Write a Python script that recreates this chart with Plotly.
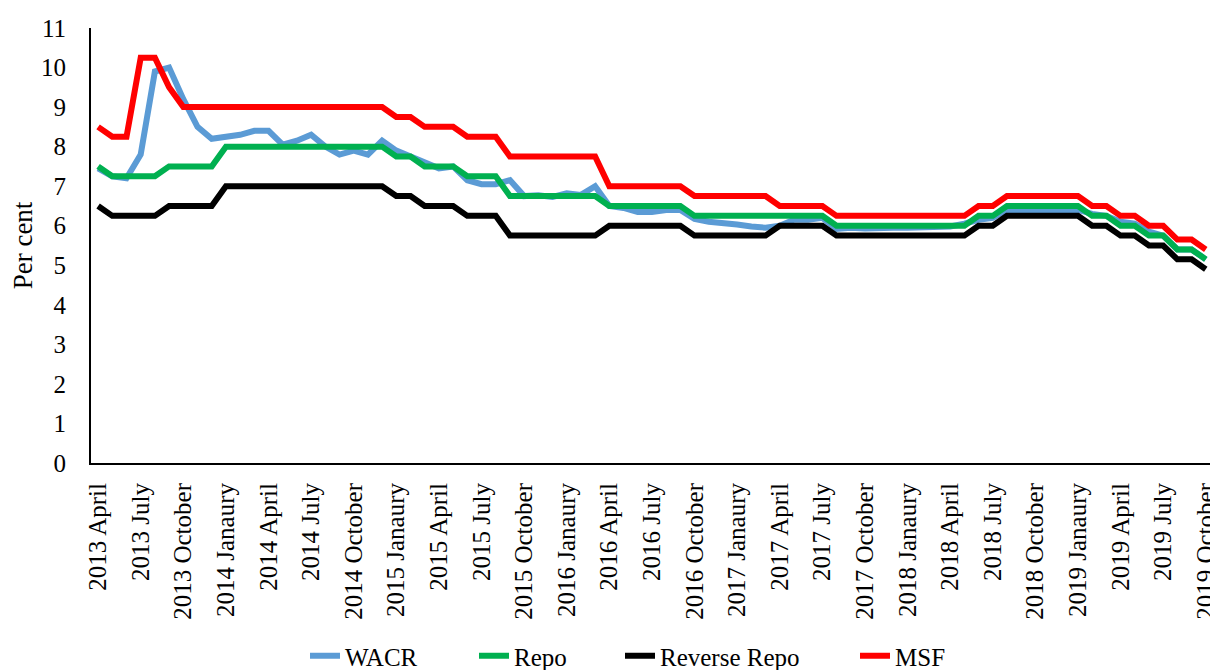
import plotly.graph_objects as go

month_names = ["Janaury", "February", "March", "April", "May", "June", "July",
               "August", "September", "October", "November", "December"]

# Monthly categories: 2013 April .. 2019 October
categories = []
for yr in range(2013, 2020):
    for mi, mn in enumerate(month_names):
        if yr == 2013 and mi < 3:
            continue
        if yr == 2019 and mi > 9:
            continue
        categories.append(f"{yr} {mn}")

wacr = [7.45, 7.25, 7.2, 7.8, 9.9, 10.0, 9.2, 8.5, 8.2, 8.25,
        8.3, 8.4, 8.4, 8.05, 8.15, 8.3, 8.0, 7.8, 7.9, 7.8,
        8.15, 7.9, 7.75, 7.6, 7.45, 7.5, 7.15, 7.05, 7.05, 7.15,
        6.75, 6.77, 6.73, 6.82, 6.78, 7.0, 6.5, 6.45, 6.35, 6.35,
        6.4, 6.4, 6.17, 6.1, 6.08, 6.03, 5.98, 5.95, 6.0, 6.15,
        6.15, 6.2, 5.92, 5.95, 5.93, 5.95, 5.95, 5.95, 5.95, 5.95,
        5.98, 6.05, 6.15, 6.2, 6.4, 6.4, 6.4, 6.42, 6.43, 6.4,
        6.3, 6.25, 6.1, 6.05, 5.85, 5.75, 5.4, 5.4, 5.15]

repo = [7.5, 7.25, 7.25, 7.25, 7.25, 7.5, 7.5, 7.5, 7.5, 8.0,
        8.0, 8.0, 8.0, 8.0, 8.0, 8.0, 8.0, 8.0, 8.0, 8.0,
        8.0, 7.75, 7.75, 7.5, 7.5, 7.5, 7.25, 7.25, 7.25, 6.75,
        6.75, 6.75, 6.75, 6.75, 6.75, 6.75, 6.5, 6.5, 6.5, 6.5,
        6.5, 6.5, 6.25, 6.25, 6.25, 6.25, 6.25, 6.25, 6.25, 6.25,
        6.25, 6.25, 6.0, 6.0, 6.0, 6.0, 6.0, 6.0, 6.0, 6.0,
        6.0, 6.0, 6.25, 6.25, 6.5, 6.5, 6.5, 6.5, 6.5, 6.5,
        6.25, 6.25, 6.0, 6.0, 5.75, 5.75, 5.4, 5.4, 5.15]

reverse_repo = [6.5, 6.25, 6.25, 6.25, 6.25, 6.5, 6.5, 6.5, 6.5, 7.0,
                7.0, 7.0, 7.0, 7.0, 7.0, 7.0, 7.0, 7.0, 7.0, 7.0,
                7.0, 6.75, 6.75, 6.5, 6.5, 6.5, 6.25, 6.25, 6.25, 5.75,
                5.75, 5.75, 5.75, 5.75, 5.75, 5.75, 6.0, 6.0, 6.0, 6.0,
                6.0, 6.0, 5.75, 5.75, 5.75, 5.75, 5.75, 5.75, 6.0, 6.0,
                6.0, 6.0, 5.75, 5.75, 5.75, 5.75, 5.75, 5.75, 5.75, 5.75,
                5.75, 5.75, 6.0, 6.0, 6.25, 6.25, 6.25, 6.25, 6.25, 6.25,
                6.0, 6.0, 5.75, 5.75, 5.5, 5.5, 5.15, 5.15, 4.9]

msf = [8.5, 8.25, 8.25, 10.25, 10.25, 9.5, 9.0, 9.0, 9.0, 9.0,
       9.0, 9.0, 9.0, 9.0, 9.0, 9.0, 9.0, 9.0, 9.0, 9.0,
       9.0, 8.75, 8.75, 8.5, 8.5, 8.5, 8.25, 8.25, 8.25, 7.75,
       7.75, 7.75, 7.75, 7.75, 7.75, 7.75, 7.0, 7.0, 7.0, 7.0,
       7.0, 7.0, 6.75, 6.75, 6.75, 6.75, 6.75, 6.75, 6.5, 6.5,
       6.5, 6.5, 6.25, 6.25, 6.25, 6.25, 6.25, 6.25, 6.25, 6.25,
       6.25, 6.25, 6.5, 6.5, 6.75, 6.75, 6.75, 6.75, 6.75, 6.75,
       6.5, 6.5, 6.25, 6.25, 6.0, 6.0, 5.65, 5.65, 5.4]

series_names = ["WACR", "Repo", "Reverse Repo", "MSF"]
series_values = [wacr, repo, reverse_repo, msf]
series_colors = ["#5B9BD5", "#00B050", "#000000", "#FF0000"]

tick_labels = categories[::3]
y_ticks = list(range(0, 12))

FONT = "Liberation Serif"
# the page body has an 8px margin, so the figure is sized to fill the rest of the window
W, H = 1210, 662
L, R, T, B = 83, 3, 20, 207
plot_w = W - L - R
plot_h = H - T - B

# legend entry positions (figure pixel x of each entry's left edge)
legend_px = [297, 466, 612, 847]
legend_keys = ["legend", "legend2", "legend3", "legend4"]

fig = go.Figure()
for name, vals, col, key in zip(series_names, series_values, series_colors, legend_keys):
    fig.add_trace(go.Scatter(x=categories, y=vals, name=name, mode="lines",
                             line=dict(color=col, width=6), legend=key))

legend_y = -(625 - (H - B)) / plot_h
legend_layout = {}
for key, px in zip(legend_keys, legend_px):
    legend_layout[key] = dict(
        orientation="h", x=(px - L) / plot_w, xanchor="left",
        y=legend_y, yanchor="top",
        font=dict(family=FONT, size=25, color="black"),
        bgcolor="rgba(0,0,0,0)",
    )

fig.update_layout(
    width=W, height=H,
    margin=dict(l=L, r=R, t=T, b=B, autoexpand=False),
    paper_bgcolor="white", plot_bgcolor="white",
    font=dict(family=FONT, color="black", size=25),
    showlegend=True,
    **legend_layout,
)
fig.update_xaxes(
    type="category", range=[-0.5, len(categories) - 0.35],
    tickmode="array", tickvals=tick_labels, ticktext=tick_labels,
    tickangle=-90, tickfont=dict(family=FONT, size=25, color="black"),
    showline=True, linecolor="black", linewidth=2, mirror=False,
    showgrid=False, zeroline=False, ticks="", ticklabelstandoff=8,
    automargin=False,
)
fig.update_yaxes(
    range=[0, 11], tickmode="array", tickvals=y_ticks,
    tickfont=dict(family=FONT, size=25, color="black"),
    showline=True, linecolor="black", linewidth=2,
    showgrid=False, zeroline=False, ticks="", ticklabelstandoff=18,
    title=dict(text="Per cent", font=dict(family=FONT, size=27, color="black"), standoff=8),
    automargin=False,
)

fig.write_html("out.html")
